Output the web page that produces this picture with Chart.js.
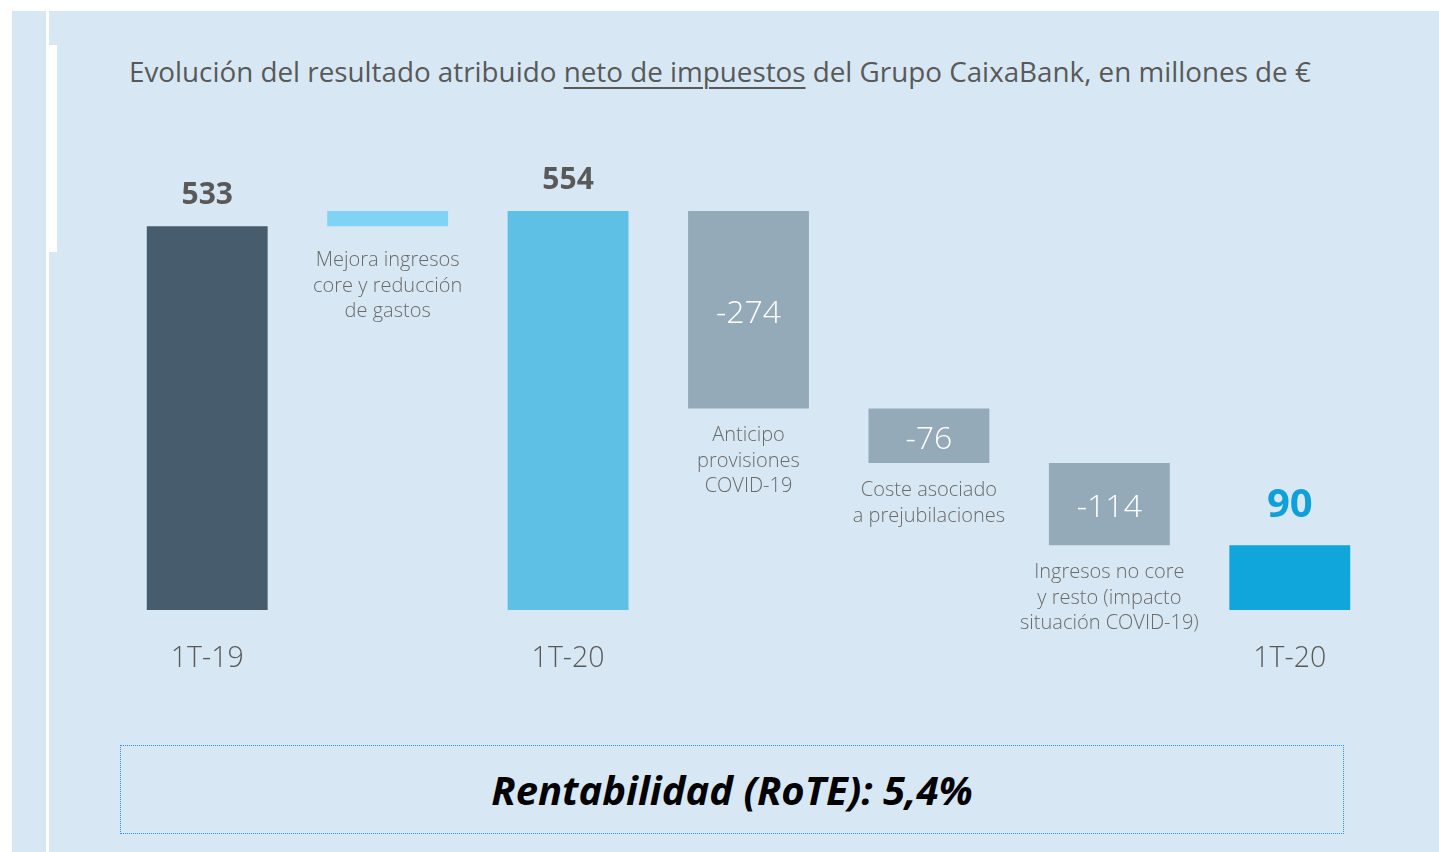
<!DOCTYPE html>
<html>
<head>
<meta charset="utf-8">
<script src="https://cdn.jsdelivr.net/npm/chart.js@4.4.1/dist/chart.umd.min.js"></script>
<style>
body { margin: 0; background: #fff; width: 1439px; height: 852px; overflow: hidden; position: relative; font-family: 'Open Sans', sans-serif; }
#panel { position: absolute; left: 12px; top: 11px; right: 0; bottom: 0; background: #d7e8f4; }
#rule { position: absolute; left: 46px; top: 11px; bottom: 0; width: 3px; background: #fff; }
#tab { position: absolute; left: 49px; top: 45px; width: 8px; height: 207px; background: #fff; }
#title { position: absolute; left: 129px; top: 52px; font-size: 27.8px; color: #595959; white-space: nowrap; }
#title u { text-decoration-thickness: 2px; text-underline-offset: 5px; }
#rote { position: absolute; left: 120px; top: 745px; width: 1222px; height: 87px; border: 1px dotted #2f93e0;
        display: flex; align-items: center; justify-content: center;
        font-weight: bold; font-style: italic; font-size: 40px; color: #000; }
#chart { position: absolute; left: 0; top: 0; }
</style>
</head>
<body>
<div id="panel"></div>
<div id="rule"></div>
<div id="tab"></div>
<div id="title">Evolución del resultado atribuido <u>neto de impuestos</u> del Grupo CaixaBank, en millones de €</div>
<div id="rote">Rentabilidad (RoTE): 5,4%</div>
<canvas id="chart" width="1439" height="852"></canvas>
<script>
'use strict';

// waterfall steps, in millones de €
const axisLabels = ['1T-19', '', '1T-20', '', '', '', '1T-20'];
const values = [533, 21, 554, -274, -76, -114, 90];
const isTotal = [true, false, true, false, false, false, true];
const notes = [
	[],
	['Mejora ingresos', 'core y reducción', 'de gastos'],
	[],
	['Anticipo', 'provisiones', 'COVID-19'],
	['Coste asociado', 'a prejubilaciones'],
	['Ingresos no core', 'y resto (impacto', 'situación COVID-19)'],
	[],
];
const barColors = ['#475c6c', '#7fd4f6', '#5fc0e6', '#94aab9', '#94aab9', '#94aab9', '#10a6db'];

// turn the steps into floating [from, to] bars
function buildSpans() {
	let running = 0;
	return values.map((v, i) => {
		if (isTotal[i]) {
			running = v;
			return [0, v];
		}
		const from = running;
		running += v;
		return [from, running];
	});
}

const spans = buildSpans();

const labelPlugin = {
	id: 'waterfallLabels',
	afterDatasetsDraw(chart) {
		const ctx = chart.ctx;
		const x = chart.scales.x;
		const y = chart.scales.y;
		const base = y.getPixelForValue(0);
		ctx.save();
		ctx.textAlign = 'center';
		ctx.textBaseline = 'alphabetic';

		spans.forEach((span, i) => {
			const cx = x.getPixelForValue(i);
			const top = y.getPixelForValue(Math.max(span[0], span[1]));
			const bottom = y.getPixelForValue(Math.min(span[0], span[1]));

			if (isTotal[i]) {
				const last = i === values.length - 1;
				ctx.font = last ? 'bold 40px "Open Sans"' : 'bold 30px "Open Sans"';
				ctx.fillStyle = last ? '#0f9fd9' : '#595959';
				ctx.fillText(String(values[i]), cx, top - (last ? 28 : 22));
			} else if (values[i] < 0) {
				ctx.font = '300 32px "Open Sans"';
				ctx.fillStyle = '#ffffff';
				ctx.fillText(String(values[i]), cx, (top + bottom) / 2 + 13);
			}

			// descriptive text under the step bars
			ctx.font = '300 20px "Open Sans"';
			ctx.fillStyle = '#6a6a6a';
			const gap = values[i] > 0 ? 40 : 33;
			notes[i].forEach((line, k) => {
				ctx.fillText(line, cx, bottom + gap + k * 25.5);
			});

			if (axisLabels[i]) {
				ctx.font = '300 28.5px "Open Sans"';
				ctx.fillStyle = '#595959';
				ctx.fillText(axisLabels[i], cx, base + 57);
			}
		});
		ctx.restore();
	},
};

function makeWaterfall() {
	const ctx = document.querySelector('#chart').getContext('2d');
	return new Chart(ctx, {
		type: 'bar',
		data: {
			labels: axisLabels,
			datasets: [{
				data: spans,
				backgroundColor: barColors,
				borderWidth: 0,
				barPercentage: 0.67,
				categoryPercentage: 1,
			}],
		},
		options: {
			responsive: false,
			animation: false,
			layout: { padding: { left: 117, right: 59, top: 106, bottom: 242 } },
			plugins: { legend: { display: false }, tooltip: { enabled: false } },
			scales: {
				x: { display: false },
				y: { display: false, min: 0, max: 700 },
			},
		},
		plugins: [labelPlugin],
	});
}

makeWaterfall();
</script>
</body>
</html>
